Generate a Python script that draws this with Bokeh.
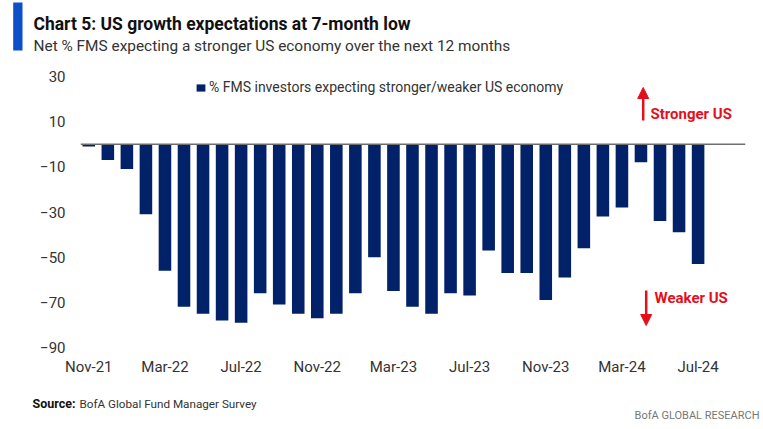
from bokeh.plotting import figure
from bokeh.layouts import column, row
from bokeh.models import (Range1d, FixedTicker, Span, Label, Arrow, NormalHead,
                          BoxAnnotation, Legend, LegendItem, ColumnDataSource)
from bokeh.embed import file_html
from bokeh.resources import INLINE

months = ["Nov-21", "Dec-21", "Jan-22", "Feb-22", "Mar-22", "Apr-22", "May-22", "Jun-22",
          "Jul-22", "Aug-22", "Sep-22", "Oct-22", "Nov-22", "Dec-22", "Jan-23", "Feb-23",
          "Mar-23", "Apr-23", "May-23", "Jun-23", "Jul-23", "Aug-23", "Sep-23", "Oct-23",
          "Nov-23", "Dec-23", "Jan-24", "Feb-24", "Mar-24", "Apr-24", "May-24", "Jun-24",
          "Jul-24"]
net_pct = [-1, -7, -11, -31, -56, -72, -75, -78, -79, -66, -71, -75, -77, -75, -66, -50,
           -65, -72, -75, -66, -67, -47, -57, -57, -69, -59, -46, -32, -28, -8, -34, -39,
           -53]
y_ticks = [-90, -70, -50, -30, -10, 10, 30]
x_tick_step = 4

FONT = "Roboto"
NAVY = "#012169"
RED = "#e3101c"
W = 763


def blank(y0, y1):
    f = figure(width=W, height=y1 - y0, output_backend="svg", toolbar_location=None,
               x_range=Range1d(0, W), y_range=Range1d(y1, y0),
               min_border=0, min_border_left=0, min_border_right=0,
               min_border_top=0, min_border_bottom=0)
    f.axis.visible = False
    f.grid.visible = False
    f.outline_line_color = None
    return f


# ---------------- header ----------------
top = blank(0, 58)
top.add_layout(BoxAnnotation(left=12.7, right=22, top=2, bottom=50,
                             fill_color="#0b50c6", fill_alpha=1, line_color=None))
top.add_layout(Label(x=33, y=23, text="Chart 5: US growth expectations at 7-month low",
                     text_font=FONT, text_font_style="bold", text_font_size="17.5px",
                     text_color="#111111", text_baseline="alphabetic"))
top.add_layout(Label(x=33, y=45.5,
                     text="Net % FMS expecting a stronger US economy over the next 12 months",
                     text_font=FONT, text_font_size="15.4px",
                     text_color="#333333", text_baseline="alphabetic"))

# ---------------- chart ----------------
idx = list(range(len(months)))
src = ColumnDataSource(dict(x=idx, top=net_pct, month=months))

p = figure(width=W, height=322, output_backend="svg", toolbar_location=None,
           x_range=Range1d(-0.436, 34.49), y_range=Range1d(-90, 30),
           min_border_left=80, min_border_right=18, min_border_top=18, min_border_bottom=33)
p.outline_line_color = None
p.grid.grid_line_color = None

bars = p.vbar(x="x", top="top", bottom=0, width=0.66, source=src,
              fill_color=NAVY, line_color=None)

p.add_layout(Span(location=0, dimension="width", line_color="#6e6e6e", line_width=1.5))

p.xaxis.ticker = FixedTicker(ticks=idx[::x_tick_step])
p.xaxis.major_label_overrides = {i: months[i] for i in idx[::x_tick_step]}
p.yaxis.ticker = FixedTicker(ticks=y_ticks)
for ax in (p.xaxis, p.yaxis):
    ax.axis_line_color = None
    ax.major_tick_line_color = None
    ax.minor_tick_line_color = None
    ax.major_tick_in = 0
    ax.major_tick_out = 0
    ax.major_label_text_font = FONT
    ax.major_label_text_font_size = "15px"
    ax.major_label_text_color = "#333333"
p.yaxis.major_label_standoff = 15
p.xaxis.major_label_standoff = 10

legend = Legend(items=[LegendItem(label="% FMS investors expecting stronger/weaker US economy",
                                  renderers=[bars])],
                location=(115, 250), orientation="horizontal",
                padding=0, margin=0, spacing=0, label_standoff=3,
                glyph_width=11, glyph_height=9, label_height=20,
                label_text_font=FONT, label_text_font_size="14px",
                label_text_color="#333333",
                border_line_color=None, background_fill_alpha=0)
p.add_layout(legend)

# annotations (screen units, relative to the frame's bottom-left corner)
p.add_layout(Arrow(end=NormalHead(size=11, fill_color=RED, line_color=RED),
                   x_start=562.7, y_start=227, x_end=562.7, y_end=260,
                   start_units="screen", end_units="screen",
                   line_color=RED, line_width=2.5))
p.add_layout(Arrow(end=NormalHead(size=11, fill_color=RED, line_color=RED),
                   x_start=565.7, y_start=57, x_end=565.7, y_end=22,
                   start_units="screen", end_units="screen",
                   line_color=RED, line_width=2.5))
p.add_layout(Label(x=570, y=234, x_units="screen", y_units="screen", text="Stronger US",
                   text_font=FONT, text_font_style="bold", text_font_size="15px",
                   text_color=RED, text_baseline="middle"))
p.add_layout(Label(x=574, y=50, x_units="screen", y_units="screen", text="Weaker US",
                   text_font=FONT, text_font_style="bold", text_font_size="15px",
                   text_color=RED, text_baseline="middle"))

# ---------------- footer ----------------
bot = blank(380, 429)
bot.add_layout(Label(x=32, y=403, text="Source:",
                     text_font=FONT, text_font_style="bold", text_font_size="12.5px",
                     text_color="#111111", text_baseline="alphabetic"))
bot.add_layout(Label(x=79, y=403, text="BofA Global Fund Manager Survey",
                     text_font=FONT, text_font_size="11.7px",
                     text_color="#333333", text_baseline="alphabetic"))
bot.add_layout(Label(x=759, y=415, text="BofA GLOBAL RESEARCH", text_align="right",
                     text_font=FONT, text_font_size="11px",
                     text_color="#777777", text_baseline="middle"))

layout = column(row(top), p, row(bot), spacing=0)
open("out.html", "w").write(file_html(layout, INLINE))
